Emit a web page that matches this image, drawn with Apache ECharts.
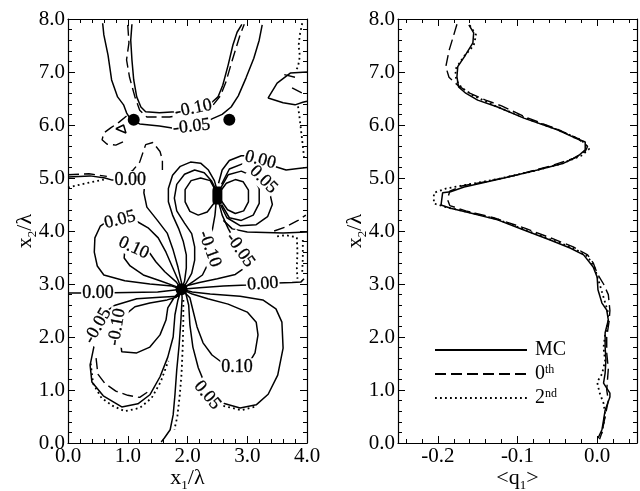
<!DOCTYPE html>
<html>
<head>
<meta charset="utf-8">
<script src="https://cdn.jsdelivr.net/npm/echarts@6/dist/echarts.min.js"></script>
<style>
  html, body { margin: 0; background: #fff; }
  #chart { width: 640px; height: 491px; }
</style>
</head>
<body>
<div id="chart"></div>
<script>
// ---- left panel: contour lines of the MC field (x1/λ, x2/λ) ----
const mcTop05 = [[0.58,7.92],[0.6,7.7],[0.67,7.32],[0.73,6.85],[0.83,6.53],[0.93,6.38],[0.98,6.23],[1.05,6.1],[1.2,6.02],[1.53,5.98],[1.77,5.94],[1.95,5.96],[2.2,6.05],[2.4,6.11],[2.58,6.2],[2.73,6.34],[2.85,6.55],[2.98,6.89],[3.11,7.26],[3.2,7.6],[3.25,7.89]]
const mcTop10 = [[1.07,7.9],[1.05,7.6],[1.07,7.23],[1.1,6.85],[1.15,6.53],[1.22,6.34],[1.3,6.25],[1.53,6.23],[1.8,6.25],[2.1,6.32],[2.41,6.43],[2.51,6.53],[2.59,6.75],[2.68,7.13],[2.76,7.51],[2.83,7.75],[2.91,7.9]]
const mcWedge = [[4.0,7.0],[3.72,6.98],[3.5,6.79],[3.35,6.51],[3.6,6.42],[3.8,6.38],[3.93,6.43],[4.0,6.45]]
const mcZeroLeft = [[0,5.02],[0.37,5.04],[0.62,5.0],[0.74,4.96],[1.04,4.96],[1.29,4.96],[1.27,4.72],[1.32,4.45],[1.49,4.21],[1.66,3.96],[1.76,3.64],[1.84,3.32],[1.9,3.02],[1.9,2.9]]
const mcZeroLow = [[0,2.83],[0.5,2.83],[1.0,2.84],[1.5,2.85],[1.9,2.9]]
const mcZeroRight = [[1.9,2.9],[2.2,2.93],[2.6,2.96],[3.0,2.98],[3.25,3.0],[3.5,3.02],[3.75,3.03],[3.9,3.04],[3.95,3.1]]
const mcZeroDown = [[1.9,2.9],[1.91,2.74],[1.89,2.32],[1.86,1.85],[1.82,1.38],[1.79,0.91],[1.76,0.53],[1.71,0.25],[1.61,0.09],[1.56,0.02]]
const mcUL05 = [[1.9,2.9],[1.74,2.96],[1.37,3.0],[0.95,3.06],[0.6,3.17],[0.49,3.34],[0.44,3.6],[0.45,3.87],[0.54,4.09],[0.67,4.19],[0.87,4.22],[1.17,4.17],[1.34,4.06],[1.51,3.87],[1.64,3.6],[1.74,3.34],[1.84,3.08],[1.9,2.9]]
const mcUL10 = [[1.9,2.9],[1.81,3.04],[1.62,3.23],[1.47,3.42],[1.37,3.58],[1.15,3.7],[0.95,3.64],[0.94,3.49],[1.04,3.34],[1.26,3.17],[1.54,3.06],[1.79,2.96],[1.9,2.9]]
const mcLL05 = [[1.9,2.9],[1.84,2.77],[1.54,2.75],[1.15,2.72],[0.79,2.6],[0.62,2.47],[0.5,2.23],[0.44,1.85],[0.37,1.47],[0.4,1.15],[0.59,0.89],[0.9,0.68],[1.17,0.74],[1.37,0.91],[1.54,1.25],[1.67,1.62],[1.76,2.0],[1.79,2.42],[1.84,2.7],[1.9,2.9]]
const mcLL10 = [[1.9,2.9],[1.81,2.75],[1.66,2.7],[1.37,2.64],[1.12,2.57],[0.99,2.45],[0.9,2.2],[0.87,1.98],[0.9,1.72],[1.15,1.7],[1.37,1.81],[1.54,2.04],[1.64,2.32],[1.67,2.55],[1.78,2.75],[1.9,2.9]]
const mcLR05 = [[1.9,2.9],[1.97,2.83],[2.02,2.6],[2.04,2.23],[2.09,1.81],[2.18,1.42],[2.35,0.95],[2.63,0.74],[2.88,0.66],[3.15,0.72],[3.35,0.92],[3.51,1.28],[3.6,1.79],[3.58,2.28],[3.48,2.53],[3.26,2.7],[2.88,2.77],[2.38,2.81],[2.08,2.85],[1.9,2.9]]
const mcLR10 = [[1.9,2.9],[2.04,2.74],[2.09,2.51],[2.16,2.19],[2.26,1.89],[2.41,1.66],[2.6,1.5],[2.85,1.45],[3.05,1.55],[3.13,1.7],[3.18,2.04],[3.15,2.28],[3.0,2.47],[2.68,2.62],[2.34,2.72],[2.08,2.81],[1.9,2.9]]
const mcUR05 = [[1.9,2.9],[1.95,3.05],[1.98,3.3],[1.98,3.55],[1.93,3.8],[1.85,4.05],[1.75,4.3],[1.68,4.55],[1.68,4.8],[1.75,5.05],[1.88,5.22],[2.05,5.3],[2.22,5.28],[2.35,5.15],[2.45,4.95],[2.5,4.75],[2.52,4.55],[2.58,4.3],[2.68,4.05],[2.8,3.8],[2.87,3.62],[2.93,3.45],[2.95,3.3],[2.8,3.18],[2.5,3.1],[2.2,3.03],[2.0,2.97],[1.9,2.9]]
const mcUR10 = [[1.9,2.9],[1.97,3.0],[2.07,3.2],[2.12,3.45],[2.12,3.7],[2.07,3.95],[1.95,4.15],[1.82,4.38],[1.78,4.62],[1.82,4.88],[1.95,5.07],[2.12,5.15],[2.28,5.1],[2.4,4.95],[2.48,4.77],[2.48,4.55],[2.46,4.3],[2.42,4.05],[2.38,3.8],[2.36,3.62],[2.33,3.35],[2.25,3.17],[2.1,3.05],[1.9,2.9]]
const mcBlobL = [[2.47,4.76],[2.38,4.95],[2.22,5.0],[2.06,4.95],[1.96,4.78],[1.96,4.55],[2.04,4.37],[2.18,4.3],[2.33,4.36],[2.44,4.52],[2.47,4.66]]
const mcBlobR1 = [[2.55,4.75],[2.65,4.9],[2.8,4.97],[2.93,4.93],[3.02,4.77],[3.02,4.55],[2.94,4.38],[2.8,4.33],[2.67,4.4],[2.56,4.58]]
const mcBlobR2 = [[2.56,4.82],[2.68,5.06],[2.9,5.13],[3.1,5.03],[3.2,4.8],[3.2,4.52],[3.1,4.3],[2.9,4.2],[2.7,4.25],[2.57,4.5]]
const mcBlobR3 = [[2.57,4.88],[2.7,5.17],[2.95,5.28],[3.18,5.2],[3.27,4.98],[3.38,4.7],[3.42,4.5],[3.34,4.27],[3.15,4.12],[2.88,4.1],[2.66,4.25],[2.55,4.5]]
const mcZeroTop = [[2.52,4.9],[2.58,5.15],[2.7,5.33],[2.9,5.42],[3.05,5.42],[3.22,5.35],[3.45,5.22],[3.65,5.15],[3.85,5.18],[4.0,5.2]]
const mcRightNeg = [[2.6,4.2],[2.75,4.04],[3.0,3.98],[3.3,3.97],[3.6,3.96],[3.8,3.97],[4.0,3.98]]

// 0th order (dashed) where it leaves the MC lines
const zTop10a = [[1.0,7.89],[1.02,7.55],[0.98,7.23],[1.03,6.9],[1.12,6.53],[1.2,6.28],[1.32,6.15],[1.7,6.15],[1.85,6.18]]
const zTop10b = [[2.43,6.38],[2.55,6.55],[2.64,6.8],[2.73,7.15],[2.82,7.48],[2.88,7.7],[2.95,7.9]]
const zLoop = [[0.98,6.17],[0.85,6.05],[0.72,5.95],[0.6,5.85],[0.57,5.72],[0.65,5.64],[0.8,5.62],[0.92,5.68]]
const zMid = [[1.0,5.08],[1.09,5.15],[1.2,5.3],[1.26,5.5],[1.3,5.63],[1.42,5.67],[1.54,5.5],[1.58,5.34],[1.58,5.15]]
const zZeroLeft = [[0,5.06],[0.35,5.08],[0.65,5.03]]
const zLL05 = [[0.47,1.6],[0.5,1.3],[0.62,1.12],[0.8,0.98],[1.0,0.9],[1.2,0.86],[1.38,1.0]]
const zRight = [[3.45,4.0],[3.65,4.08],[3.85,4.2],[3.98,4.3]]
const zWedgeA = [[3.62,6.95],[3.8,6.9]]
const zWedgeB = [[3.75,6.7],[3.92,6.6]]
const zTri = [[0.8,5.93],[0.97,5.85],[0.93,6.0],[0.8,5.93]]

// 2nd order (dotted) where it leaves the MC lines
const pRightTop = [[3.92,7.92],[3.88,7.7],[3.86,7.5],[3.88,7.3],[3.85,7.1],[3.8,7.0]]
const pRightMid = [[3.85,6.35],[3.88,6.1],[3.9,5.9],[3.93,5.6],[3.95,5.4]]
const pRect = [[3.5,3.9],[3.65,3.92],[3.83,3.88],[3.84,3.6],[3.83,3.3],[3.84,3.1]]
const pEdge = [[3.93,3.83],[3.93,3.5],[3.92,3.2]]
const pZeroLeft = [[0,4.82],[0.3,4.9],[0.6,4.97]]
const pDown = [[1.93,2.7],[1.93,2.3],[1.92,1.8],[1.9,1.3],[1.87,0.9],[1.83,0.5],[1.78,0.25]]
const pLL05 = [[0.38,1.5],[0.42,1.12],[0.56,0.85],[0.75,0.7],[0.95,0.6],[1.2,0.66],[1.4,0.85],[1.55,1.15],[1.68,1.55]]
const pLR05 = [[2.6,0.7],[2.9,0.62],[3.15,0.69]]

const contourLabels = [
  [2.1,6.31,'-0.10'], [2.07,5.97,'-0.05'], [1.04,4.96,'0.00'], [0.87,4.21,'0.05'],
  [1.1,3.68,'0.10'], [0.5,2.83,'0.00'], [0.5,2.21,'-0.05'], [0.82,2.19,'-0.10'],
  [3.26,3.0,'0.00'], [2.83,1.43,'0.10'], [2.33,0.9,'0.05'], [3.22,5.34,'0.00'],
  [3.27,4.97,'0.05'], [2.37,3.66,'-0.10'], [2.88,3.64,'-0.05']
]
const labelAngles = [12, 6, 0, 14, -25, 0, 60, 80, 4, 0, -50, -14, -45, -70, -55]
const singularDots = [[1.1,6.1],[2.7,6.1],[1.9,2.9]]
const blobPoint = [[2.5,4.67]]

// ---- right panel: <q1> profile against x2/λ ----
const profileMC = [[-0.161,7.89],[-0.155,7.74],[-0.156,7.55],[-0.167,7.28],[-0.175,7.1],[-0.176,6.91],[-0.174,6.72],[-0.165,6.6],[-0.15,6.47],[-0.125,6.34],[-0.092,6.13],[-0.05,5.91],[-0.03,5.77],[-0.015,5.68],[-0.015,5.53],[-0.025,5.4],[-0.042,5.28],[-0.075,5.15],[-0.117,5.0],[-0.146,4.9],[-0.167,4.83],[-0.184,4.74],[-0.194,4.72],[-0.196,4.49],[-0.184,4.43],[-0.159,4.34],[-0.125,4.21],[-0.092,4.02],[-0.059,3.83],[-0.034,3.68],[-0.017,3.55],[-0.005,3.32],[0.0,3.13],[0.001,2.89],[0.006,2.64],[0.012,2.51],[0.014,2.32],[0.01,2.08],[0.01,1.81],[0.011,1.57],[0.01,1.32],[0.008,1.13],[0.016,0.94],[0.016,0.87],[0.01,0.62],[0.008,0.43],[0.006,0.25],[0.001,0.09]]
const profile0th = [[-0.176,7.9],[-0.18,7.7],[-0.186,7.4],[-0.19,7.1],[-0.186,6.9],[-0.175,6.75],[-0.16,6.6],[-0.14,6.47],[-0.12,6.36],[-0.09,6.15],[-0.05,5.92],[-0.025,5.75],[-0.012,5.6],[-0.015,5.5],[-0.03,5.37],[-0.06,5.22],[-0.1,5.06],[-0.14,4.93],[-0.17,4.85],[-0.185,4.75],[-0.188,4.6],[-0.185,4.48],[-0.165,4.38],[-0.13,4.25],[-0.09,4.05],[-0.055,3.85],[-0.03,3.7],[-0.012,3.55],[-0.005,3.4],[0.0,3.2],[0.008,3.0],[0.014,2.8],[0.016,2.5],[0.015,2.3],[0.012,2.0],[0.012,1.7],[0.014,1.4],[0.013,1.2],[0.012,1.0],[0.014,0.8],[0.01,0.5],[0.006,0.2],[0.003,0.07]]
const profile2nd = [[-0.16,7.88],[-0.152,7.7],[-0.155,7.5],[-0.168,7.28],[-0.178,7.05],[-0.177,6.85],[-0.17,6.7],[-0.155,6.55],[-0.128,6.36],[-0.09,6.13],[-0.048,5.9],[-0.02,5.72],[-0.01,5.55],[-0.02,5.42],[-0.045,5.27],[-0.08,5.13],[-0.125,4.98],[-0.165,4.87],[-0.19,4.8],[-0.205,4.72],[-0.205,4.52],[-0.19,4.45],[-0.16,4.35],[-0.125,4.22],[-0.09,4.02],[-0.057,3.83],[-0.03,3.68],[-0.012,3.52],[-0.003,3.3],[0.003,3.0],[0.008,2.75],[0.013,2.5],[0.014,2.3],[0.01,2.05],[0.008,1.8],[0.01,1.55],[0.006,1.3],[0.0,1.15],[0.003,0.95],[0.008,0.75],[0.01,0.55],[0.008,0.35],[0.005,0.15]]

const qMajorTicks = [-0.2, -0.1, 0.0]
const qMinorTicks = [-0.24, -0.22, -0.18, -0.16, -0.14, -0.12, -0.08, -0.06, -0.04, -0.02, 0.02, 0.04]
const legendNames = ['MC', '0th', '2nd']

const FONT = '"Liberation Serif", "DejaVu Serif", serif'
const DASH = [11, 5]
const DOT = [1.8, 3.2]

const solidLines = [mcTop05, mcTop10, mcWedge, mcZeroLeft, mcZeroLow, mcZeroRight, mcZeroDown, mcUL05, mcUL10, mcLL05, mcLL10, mcLR05, mcLR10, mcUR05, mcUR10, mcBlobL, mcBlobR1, mcBlobR2, mcBlobR3, mcZeroTop, mcRightNeg, zTri]
const dashedLines = [zTop10a, zTop10b, zLoop, zMid, zZeroLeft, zLL05, zRight, zWedgeA, zWedgeB]
const dottedLines = [pRightTop, pRightMid, pRect, pEdge, pZeroLeft, pDown, pLL05, pLR05]

function contour(list, type, width, tag) {
  return list.map((d, i) => ({
    name: tag + i, type: 'line', xAxisIndex: 0, yAxisIndex: 0, data: d,
    symbol: 'none', silent: true, z: 2,
    lineStyle: { color: '#000', width: width, type: type }
  }))
}

const axisLabelStyle = { fontFamily: FONT, fontSize: 21, color: '#000' }
const frameLine = { show: true, onZero: false, lineStyle: { color: '#000', width: 1.2 } }
const subName = {
  fontFamily: FONT, fontSize: 22, lineHeight: 28, color: '#000',
  rich: { sub: { fontFamily: FONT, fontSize: 13, lineHeight: 13, verticalAlign: 'bottom', color: '#000' } }
}

function valueAxis(grid, pos, min, max, labels, extra) {
  return Object.assign({
    type: 'value', gridIndex: grid, position: pos, min: min, max: max, interval: 1,
    axisLine: frameLine,
    axisTick: { show: true, inside: true, length: 7, lineStyle: { color: '#000', width: 1 } },
    minorTick: { show: true, splitNumber: 5, length: 4, lineStyle: { color: '#000', width: 1 } },
    splitLine: { show: false }, minorSplitLine: { show: false },
    axisLabel: labels ? Object.assign({ formatter: v => v.toFixed(1), margin: 3 }, axisLabelStyle) : { show: false }
  }, extra || {})
}

function qAxis(pos, ticks, len, labels, line) {
  return {
    type: 'value', gridIndex: 1, position: pos, min: -0.25, max: 0.05,
    axisLine: line ? frameLine : { show: false, onZero: false },
    axisTick: { show: true, inside: true, length: len, customValues: ticks, lineStyle: { color: '#000', width: 1 } },
    splitLine: { show: false },
    axisLabel: labels ? Object.assign({ customValues: qMajorTicks, formatter: v => v.toFixed(1), margin: 3 }, axisLabelStyle) : { show: false }
  }
}

const yLabelShift = { padding: [7, 0, 0, 0] }
const nameOpts = (text, gap) => ({ name: text, nameLocation: 'middle', nameGap: gap, nameMoveOverlap: false, nameTextStyle: subName })

const option = {
  animation: false,
  backgroundColor: '#fff',
  grid: [
    { left: 68, top: 19, width: 239, height: 424, outerBoundsMode: 'none', containLabel: false },
    { left: 398, top: 19, width: 239, height: 424, outerBoundsMode: 'none', containLabel: false }
  ],
  legend: {
    data: legendNames, orient: 'vertical', left: 429, top: 335,
    itemWidth: 92, itemHeight: 14, itemGap: 4, selectedMode: false,
    itemStyle: { color: 'rgba(0,0,0,0)', borderWidth: 0, opacity: 0 },
    formatter: n => n === 'MC' ? 'MC' : n.charAt(0) + '{sup|' + n.slice(1) + '}',
    textStyle: {
      fontFamily: FONT, fontSize: 20, lineHeight: 20, color: '#000', padding: [0, 0, 0, 3],
      rich: { sup: { fontFamily: FONT, fontSize: 12, lineHeight: 8, verticalAlign: 'top', color: '#000' } }
    }
  },
  xAxis: [
    valueAxis(0, 'bottom', 0, 4, true, nameOpts('x{sub|1}/λ', 21)),
    valueAxis(0, 'top', 0, 4, false),
    Object.assign(qAxis('bottom', qMajorTicks, 7, true, true), nameOpts('<q{sub|1}>', 21)),
    qAxis('bottom', qMinorTicks, 4, false, false),
    qAxis('top', qMajorTicks, 7, false, true),
    qAxis('top', qMinorTicks, 4, false, false)
  ],
  yAxis: [
    valueAxis(0, 'left', 0, 8, true, nameOpts('x{sub|2}/λ', 29)),
    valueAxis(0, 'right', 0, 8, false),
    valueAxis(1, 'left', 0, 8, true, nameOpts('x{sub|2}/λ', 29)),
    valueAxis(1, 'right', 0, 8, false)
  ],
  series: [
    ...contour(solidLines, 'solid', 1.5, 's'),
    ...contour(dashedLines, DASH, 1.4, 'd'),
    ...contour(dottedLines, DOT, 1.8, 'p'),
    {
      name: 'labels', type: 'scatter', xAxisIndex: 0, yAxisIndex: 0, symbolSize: 1, z: 5, silent: true,
      itemStyle: { color: 'rgba(0,0,0,0)', opacity: 1 },
      label: { show: true, position: 'inside', formatter: p => p.name, fontFamily: FONT, fontSize: 18, color: '#000', textBorderColor: '#000', textBorderWidth: 0.3, backgroundColor: '#fff', padding: [0, 1] },
      data: contourLabels.map((c, i) => ({ name: c[2], value: [c[0], c[1]], label: { rotate: labelAngles[i] } }))
    },
    { name: 'dots', type: 'scatter', xAxisIndex: 0, yAxisIndex: 0, symbol: 'circle', symbolSize: 12, z: 6, silent: true, itemStyle: { color: '#000', opacity: 1 }, data: singularDots },
    { name: 'blob', type: 'scatter', xAxisIndex: 0, yAxisIndex: 0, symbol: 'roundRect', symbolSize: [10, 18], z: 6, silent: true, itemStyle: { color: '#000', opacity: 1 }, data: blobPoint },
    { name: 'MC', type: 'line', xAxisIndex: 2, yAxisIndex: 2, data: profileMC, symbol: 'none', lineStyle: { color: '#000', width: 1.5, type: 'solid' }, itemStyle: { color: '#000' } },
    { name: '0th', type: 'line', xAxisIndex: 2, yAxisIndex: 2, data: profile0th, symbol: 'none', lineStyle: { color: '#000', width: 1.4, type: DASH }, itemStyle: { color: '#000' } },
    { name: '2nd', type: 'line', xAxisIndex: 2, yAxisIndex: 2, data: profile2nd, symbol: 'none', lineStyle: { color: '#000', width: 1.8, type: DOT }, itemStyle: { color: '#000' } }
  ]
}
option.yAxis.forEach(a => { if (a.axisLabel.show !== false) Object.assign(a.axisLabel, yLabelShift) })

const chart = echarts.init(document.getElementById('chart'), null, { renderer: 'canvas' })
chart.setOption(option)
</script>
</body>
</html>
